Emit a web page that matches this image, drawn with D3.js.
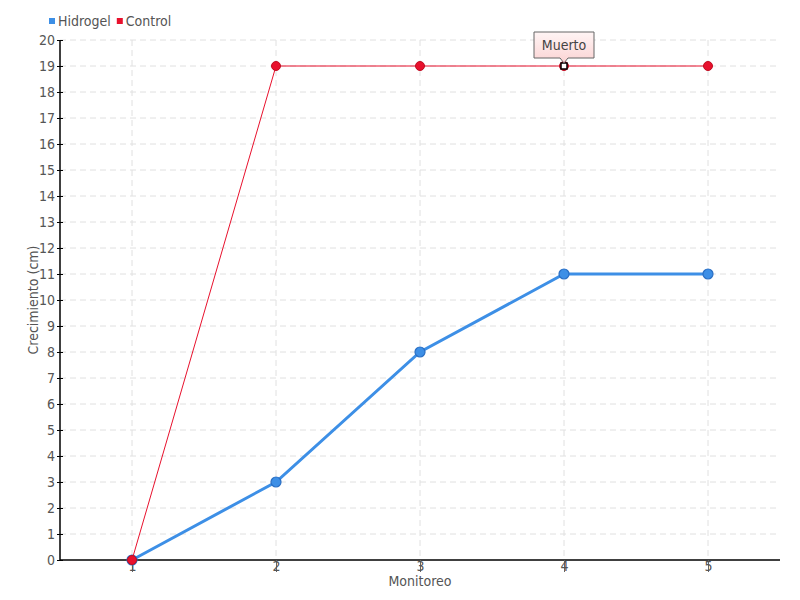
<!DOCTYPE html>
<html><head><meta charset="utf-8">
<script src="https://cdn.jsdelivr.net/npm/d3@7"></script>
<style>
body{margin:0;background:#fff;}
text{font-family:"Liberation Sans Narrow","DejaVu Sans Condensed","Roboto Condensed",sans-serif;}
</style></head><body>
<svg id="c" width="800" height="600"></svg>
<script>
const categories = [1, 2, 3, 4, 5];
const hidrogel = [0, 3, 8, 11, 11];
const control = [0, 19, 19, 19, 19];
const yTicks = d3.range(0, 21);
const seriesNames = ["Hidrogel", "Control"];
const colors = ["#3d8fe6", "#e8112d"];
const annotation = {series: "Control", index: 3, text: "Muerto"};

const svg = d3.select("#c");
const x = d3.scaleLinear().domain([0.5, 5.5]).range([60, 780]);
const y = d3.scaleLinear().domain([0, 20]).range([560, 40]);

// grid
svg.append("g").selectAll("line").data(yTicks.slice(1)).join("line")
  .attr("x1", 60).attr("x2", 780).attr("y1", d => y(d)).attr("y2", d => y(d))
  .attr("stroke", "#e0e0e0").attr("stroke-dasharray", "6,4");
svg.append("g").selectAll("line").data(categories).join("line")
  .attr("x1", d => x(d)).attr("x2", d => x(d)).attr("y1", 40).attr("y2", 560)
  .attr("stroke", "#e0e0e0").attr("stroke-dasharray", "6,4");

// axes
const yAxis = svg.append("g").attr("transform", "translate(60,0)")
  .call(d3.axisLeft(y).tickValues(yTicks).tickSize(3).tickFormat(d3.format("d")));
yAxis.select(".domain").attr("stroke", "#000").attr("stroke-width", 1.5).attr("d", "M0,40V560");
yAxis.selectAll(".tick line").attr("x1", -3).attr("x2", 3).attr("stroke", "#000");
yAxis.selectAll(".tick text").attr("x", -5).attr("font-size", 14).attr("fill", "#555")
  .style("font-family", '"Liberation Sans Narrow","DejaVu Sans Condensed",sans-serif');

const xAxis = svg.append("g").attr("transform", "translate(0,560)")
  .call(d3.axisBottom(x).tickValues(categories).tickSize(12).tickFormat(d3.format("d")));
xAxis.select(".domain").attr("stroke", "#000").attr("stroke-width", 1.5).attr("d", "M60,0H780");
xAxis.selectAll(".tick line").attr("stroke", "#666");
xAxis.selectAll(".tick text").attr("y", 1).attr("font-size", 14).attr("fill", "#555")
  .style("font-family", '"Liberation Sans Narrow","DejaVu Sans Condensed",sans-serif');

// axis titles
svg.append("text").attr("x", 420).attr("y", 586).attr("text-anchor", "middle")
  .attr("font-size", 14).attr("fill", "#555").text("Monitoreo");
svg.append("text").attr("transform", "translate(38,300) rotate(-90)").attr("text-anchor", "middle")
  .attr("font-size", 14).attr("fill", "#555").text("Crecimiento (cm)");

const line = d3.line().x((d, i) => x(categories[i])).y(d => y(d));

// Hidrogel
svg.append("path").datum(hidrogel).attr("d", line).attr("fill", "none")
  .attr("stroke", colors[0]).attr("stroke-width", 3);
svg.append("g").selectAll("circle").data(hidrogel).join("circle")
  .attr("cx", (d, i) => x(categories[i])).attr("cy", d => y(d)).attr("r", 5)
  .attr("fill", colors[0]).attr("stroke", "#2a6fc4").attr("stroke-width", 1.2);

// Control
svg.append("path").datum(control).attr("d", line).attr("fill", "none")
  .attr("stroke", colors[1]).attr("stroke-width", 1);
svg.append("g").selectAll("circle").data(control).join("circle")
  .attr("cx", (d, i) => x(categories[i])).attr("cy", d => y(d)).attr("r", 4.5)
  .attr("fill", colors[1]).attr("stroke", "#c00d22").attr("stroke-width", 1);

// annotation
const ax = x(categories[annotation.index]), ay = y(control[annotation.index]);
svg.append("rect").attr("x", ax - 3).attr("y", ay - 3).attr("width", 6).attr("height", 6)
  .attr("fill", "#fff").attr("stroke", "#000").attr("stroke-width", 1.5);
const grad = svg.append("defs").append("linearGradient").attr("id", "tg")
  .attr("x1", 0).attr("y1", 0).attr("x2", 0).attr("y2", 1);
grad.append("stop").attr("offset", "0%").attr("stop-color", "#fff5f5");
grad.append("stop").attr("offset", "100%").attr("stop-color", "#fbd3d3");
const bw = 60, bh = 26, by = ay - 34;
svg.append("path")
  .attr("d", `M${ax - bw / 2},${by} H${ax + bw / 2} V${by + bh} H${ax + 4} L${ax},${by + bh + 5} L${ax - 4},${by + bh} H${ax - bw / 2} Z`)
  .attr("fill", "url(#tg)").attr("stroke", "#666").attr("stroke-width", 1);
svg.append("text").attr("x", ax).attr("y", by + 18).attr("text-anchor", "middle")
  .attr("font-size", 14).attr("fill", "#444").text(annotation.text);

// legend
const leg = svg.append("g");
let lx = 49;
seriesNames.forEach((n, i) => {
  leg.append("rect").attr("x", lx).attr("y", 18).attr("width", 6).attr("height", 6).attr("fill", colors[i]);
  const t = leg.append("text").attr("x", lx + 9).attr("y", 26).attr("font-size", 14).attr("fill", "#555").text(n);
  lx += 9 + t.node().getComputedTextLength() + 6;
});
</script>
</body></html>
